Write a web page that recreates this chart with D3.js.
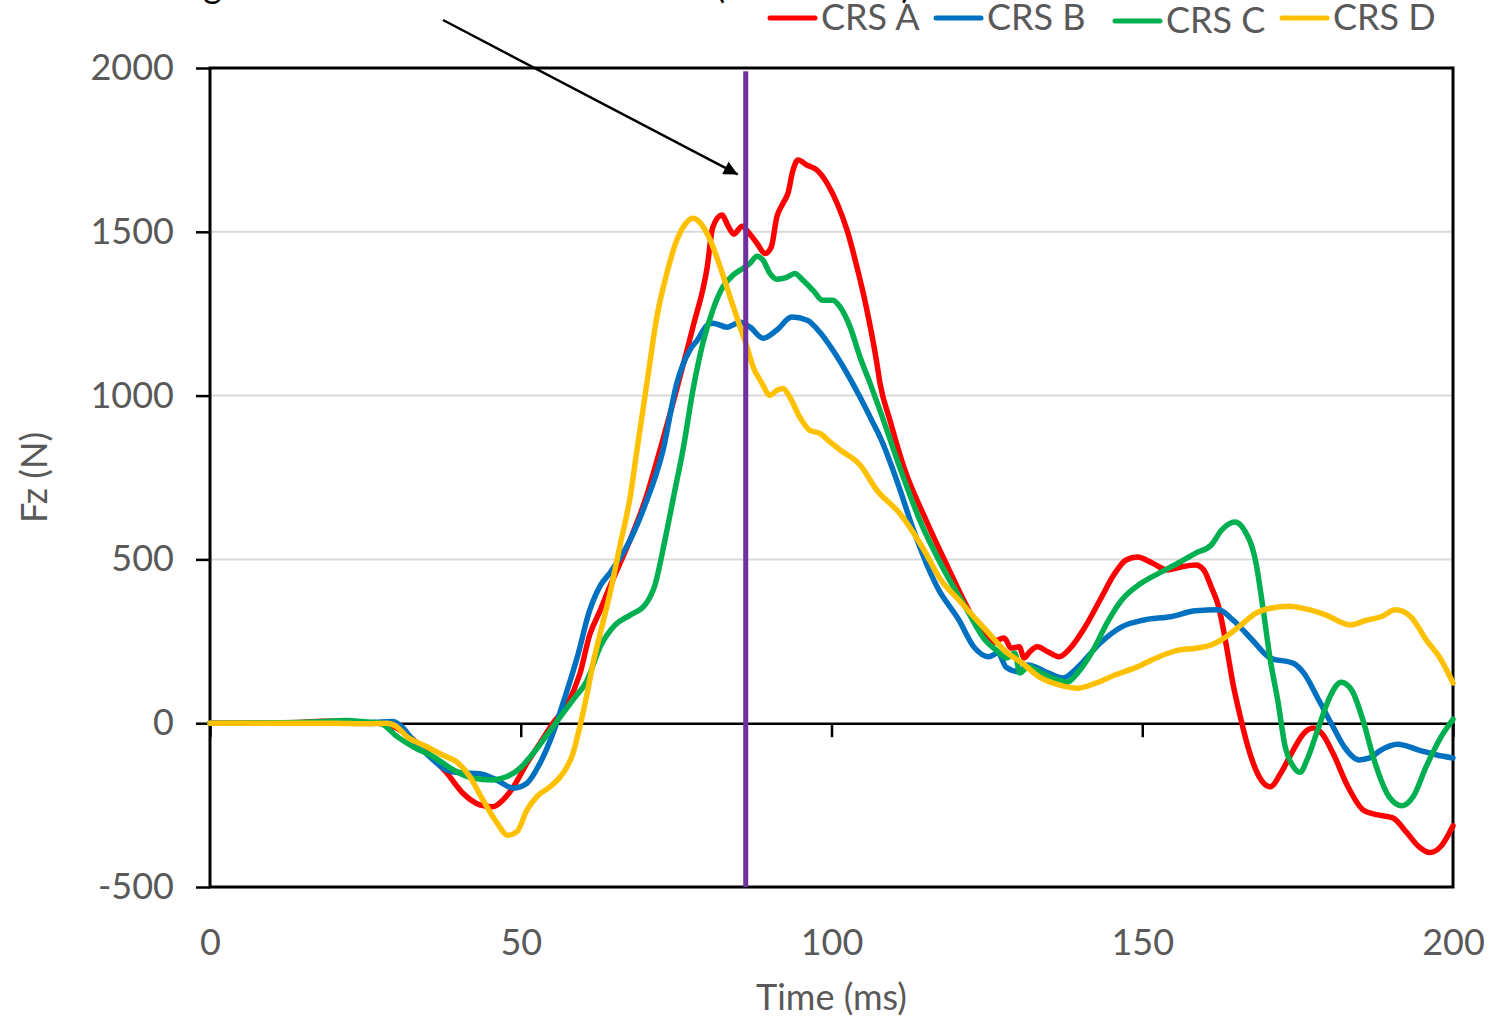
<!DOCTYPE html>
<html>
<head>
<meta charset="utf-8">
<script src="https://cdn.jsdelivr.net/npm/d3@7"></script>
<style>
  html, body { margin: 0; padding: 0; background: #fff; }
  svg { display: block; font-family: Lato, "Open Sans", sans-serif; }
</style>
</head>
<body>
<svg id="chart" width="1491" height="1017"></svg>
<script>
// Vertical ground reaction force (Fz) during the landing, four CRS conditions.
// Each series: [time (ms), Fz (N)]
const seriesNames = ["CRS A", "CRS B", "CRS C", "CRS D"];
const seriesColors = ["#FF0000", "#0070C0", "#00B050", "#FFC000"];

const crsA = [[0,0],[5,0],[10,1],[15,3],[18,6],[21,6],[24,3],[27,0],[30,-15],[32.7,-50],[35.9,-108],[38.1,-152],
  [40.7,-214],[43.4,-249],[45.5,-255],[47.1,-235],[48.8,-195],[51.0,-122],[53.1,-61],[55.2,0],[57.4,55],[59.5,150],
  [61.1,270],[62.8,345],[64.4,420],[67.6,560],[70.0,680],[72.4,834],[75.6,1056],[77.7,1209],[80.0,1392],[80.9,1514],
  [82.4,1551],[83.3,1520],[84.3,1493],[85.6,1517],[86.6,1499],[88.0,1465],[89.3,1434],[90.3,1453],[91.2,1545],
  [92.2,1587],[93.0,1618],[93.8,1688],[94.6,1719],[96.1,1703],[97.7,1688],[99.3,1648],[100.9,1587],[102.5,1505],
  [104.1,1392],[105.7,1261],[107.3,1099],[107.8,1038],[109.4,925],[111.8,773],[115.2,620],[118.7,477],[121.8,355],
  [123.9,285],[126.0,244],[126.8,254],[127.8,260],[128.9,229],[130.2,233],[131.0,199],[131.9,218],[133.1,233],
  [134.8,218],[136.6,203],[138.4,229],[140.8,294],[143.2,376],[145.6,458],[147.4,498],[149.2,507],[151.6,489],
  [154.0,468],[156.2,477],[158.6,483],[159.9,468],[161.1,416],[162.3,355],[163.5,240],[164.6,120],[165.9,10],
  [167.0,-72],[168.8,-163],[170.6,-194],[172.3,-152],[174.3,-82],[176.0,-31],[177.5,-15],[178.9,-31],[180.7,-92],
  [183.1,-194],[185.5,-264],[187.9,-280],[190.3,-289],[192.6,-335],[194.5,-377],[196.3,-395],[198.1,-375],[200,-313]];

const crsB = [[0,0],[5,0],[10,0],[15,1],[20,2],[25.3,1],[27.5,4],[29.4,5],[30.5,-5],[32.7,-52],[35.9,-112],
  [38.1,-143],[40.7,-152],[43.4,-154],[46.1,-173],[48.8,-198],[51.0,-183],[53.1,-122],[55.2,-30],[56.8,61],
  [59.1,202],[61.1,345],[62.8,420],[64.4,460],[67.6,559],[70.0,666],[72.9,834],[75.1,1037],[77.2,1139],[78.4,1169],
  [80.0,1215],[80.9,1221],[83.2,1209],[85.3,1224],[86.9,1209],[89.0,1175],[91.2,1200],[93.6,1240],[96.1,1230],
  [98.1,1194],[100.2,1139],[102.5,1068],[104.6,995],[106.7,916],[107.8,874],[111.0,714],[113.0,600],[117.0,416],
  [120.5,315],[122.9,233],[125.3,203],[126.8,214],[128.1,171],[130.2,157],[131.6,178],[134.8,154],[137.2,138],
  [139.7,172],[143.2,244],[146.7,294],[150.3,315],[154.5,325],[158.6,343],[162.3,346],[164.6,315],[167.7,254],
  [170.6,199],[174.3,183],[176.0,153],[178.4,71],[180.7,-11],[182.5,-72],[184.9,-112],[186.6,-106],[188.4,-82],
  [191.1,-64],[194.5,-82],[197.4,-97],[200,-106]];

const crsC = [[0,0],[5,0],[10,1],[15,3],[19,6],[22,8],[24.5,5],[27.4,0],[30.1,-41],[32.7,-72],[35.9,-102],
  [39.1,-142],[42.3,-168],[45.5,-173],[47.8,-163],[49.9,-137],[52.0,-92],[54.2,-36],[56.3,18],[58.4,71],[60.7,132],
  [62.8,234],[65.2,300],[67.6,330],[70.0,361],[71.6,422],[73.2,559],[74.8,711],[76.1,834],[77.7,1016],[79.3,1160],
  [80.9,1261],[82.5,1331],[84.2,1368],[85.8,1389],[86.9,1404],[88.0,1425],[89.0,1413],[90.1,1373],[91.2,1355],
  [92.8,1361],[94.1,1373],[95.4,1352],[97.0,1322],[98.6,1291],[100.2,1291],[101.4,1270],[103.0,1209],[104.6,1117],
  [106.2,1038],[107.8,955],[111.0,780],[114.2,620],[118.1,468],[121.8,346],[124.7,254],[126.5,223],[128.2,199],
  [129.5,214],[130.3,153],[131.6,172],[133.7,154],[136.1,134],[137.9,125],[139.7,156],[142.1,223],[144.3,305],
  [146.7,376],[149.8,427],[152.7,458],[155.8,489],[158.6,519],[161.1,544],[162.8,590],[164.9,614],[166.4,590],
  [168.3,489],[169.4,355],[170.6,193],[171.8,70],[173.0,-72],[174.3,-132],[175.4,-150],[176.5,-112],[178.4,-11],
  [180.2,81],[182.0,125],[183.7,101],[185.5,10],[187.3,-112],[189.7,-224],[191.8,-252],[193.6,-224],[195.7,-132],
  [198.1,-41],[200,12]];

const crsD = [[0,0],[5,0],[10,0],[15,0],[20,0],[25,-2],[28.5,0],[30,-10],[31.7,-41],[34.9,-72],[37.5,-98],
  [39.7,-118],[41.8,-163],[43.9,-234],[46.2,-305],[47.9,-342],[49.4,-331],[51.0,-265],[52.6,-224],[54.7,-194],
  [56.8,-153],[58.4,-92],[59.5,-11],[60.7,92],[61.6,180],[62.8,275],[64.4,400],[66.0,545],[67.6,690],[68.7,834],
  [70.3,1038],[71.9,1240],[73.5,1373],[75.1,1474],[76.7,1529],[77.7,1541],[78.8,1529],[80.5,1474],[82.1,1392],
  [83.7,1300],[85.3,1209],[86.4,1148],[87.4,1087],[88.8,1038],[90.1,1001],[91.2,1016],[92.2,1022],[93.3,995],
  [94.9,934],[96.5,894],[98.1,885],[99.8,858],[101.4,834],[104.6,788],[107.3,711],[111.0,640],[114.6,538],
  [117.6,437],[120.5,376],[122.9,325],[125.3,275],[127.8,223],[130.7,183],[133.7,138],[136.6,117],[139.7,107],
  [142.6,123],[145.6,147],[149.2,172],[152.7,203],[155.8,223],[158.6,229],[161.1,239],[163.5,264],[165.9,300],
  [168.3,336],[170.6,351],[173.6,357],[176.5,348],[179.6,330],[183.4,300],[186.2,315],[188.4,325],[190.8,346],
  [193.2,325],[195.7,254],[198.1,193],[200,123]];

const seriesData = [crsA, crsB, crsC, crsD];

const xTicks = [0, 50, 100, 150, 200];
const yTicks = [-500, 0, 500, 1000, 1500, 2000];
const xTitle = "Time (ms)";
const yTitle = "Fz (N)";
const markerTime = 86.2;
const noteText = "Image at the maximum knee flexion (t = 86.2 ms)";

// ---- layout ----
const plot = { left: 210, right: 1453, top: 68, bottom: 887 };
const textGrey = "#595959";
const fontSize = 36;
const plainNumber = d => String(d);

const svg = d3.select("#chart");

const x = d3.scaleLinear().domain([0, 200]).range([plot.left, plot.right]);
const y = d3.scaleLinear().domain([-500, 2000]).range([plot.bottom, plot.top]);

// horizontal gridlines
svg.append("g")
  .selectAll("line")
  .data(yTicks.filter(v => v !== 0 && v !== -500 && v !== 2000))
  .join("line")
  .attr("x1", plot.left).attr("x2", plot.right)
  .attr("y1", d => y(d)).attr("y2", d => y(d))
  .attr("stroke", "#d9d9d9").attr("stroke-width", 2);

// y axis: outside ticks and labels
const yAxis = svg.append("g")
  .attr("transform", `translate(${plot.left},0)`)
  .call(d3.axisLeft(y).tickValues(yTicks).tickFormat(plainNumber)
    .tickSize(14).tickPadding(22).tickSizeOuter(0));
yAxis.select(".domain").remove();
yAxis.selectAll(".tick line").attr("stroke", "#000").attr("stroke-width", 2.5);
yAxis.selectAll(".tick text")
  .attr("fill", textGrey).attr("font-size", fontSize).attr("font-family", "Lato, sans-serif");

// x labels under the plot box
const xAxis = svg.append("g")
  .attr("transform", `translate(0,${plot.bottom})`)
  .call(d3.axisBottom(x).tickValues(xTicks).tickFormat(plainNumber)
    .tickSize(0).tickPadding(42).tickSizeOuter(0));
xAxis.select(".domain").remove();
xAxis.selectAll(".tick text")
  .attr("fill", textGrey).attr("font-size", fontSize).attr("font-family", "Lato, sans-serif");

// zero line with downward ticks
const zeroAxis = svg.append("g")
  .attr("transform", `translate(0,${y(0)})`)
  .call(d3.axisBottom(x).tickValues(xTicks).tickSize(14).tickFormat("").tickSizeOuter(0));
zeroAxis.select(".domain").attr("stroke", "#000").attr("stroke-width", 2.5);
zeroAxis.selectAll(".tick line").attr("stroke", "#000").attr("stroke-width", 2.5);

// plot frame
svg.append("rect")
  .attr("x", plot.left).attr("y", plot.top)
  .attr("width", plot.right - plot.left).attr("height", plot.bottom - plot.top)
  .attr("fill", "none").attr("stroke", "#000").attr("stroke-width", 3);

// series
const line = d3.line()
  .x(d => x(d[0]))
  .y(d => y(d[1]))
  .curve(d3.curveMonotoneX);

svg.append("g")
  .selectAll("path")
  .data(seriesData)
  .join("path")
  .attr("d", line)
  .attr("fill", "none")
  .attr("stroke", (d, i) => seriesColors[i])
  .attr("stroke-width", 5.5)
  .attr("stroke-linejoin", "round")
  .attr("stroke-linecap", "round");

// instant marker
svg.append("line")
  .attr("x1", x(markerTime)).attr("x2", x(markerTime))
  .attr("y1", y(1990)).attr("y2", y(-500))
  .attr("stroke", "#7030A0").attr("stroke-width", 5);

// annotation text (runs off the top edge) and arrow
svg.append("text")
  .attr("x", 146).attr("y", -2)
  .attr("font-size", fontSize).attr("font-family", "Lato, sans-serif")
  .attr("fill", "#000")
  .text(noteText);

svg.append("defs").append("marker")
  .attr("id", "arrowHead")
  .attr("viewBox", "0 0 10 10")
  .attr("refX", 10).attr("refY", 5)
  .attr("markerUnits", "userSpaceOnUse")
  .attr("markerWidth", 20).attr("markerHeight", 14)
  .attr("orient", "auto")
  .append("path").attr("d", "M0,0 L10,5 L0,10 Z").attr("fill", "#000");

svg.append("line")
  .attr("x1", 443).attr("y1", 20)
  .attr("x2", x(markerTime) - 8).attr("y2", y(1675))
  .attr("stroke", "#000").attr("stroke-width", 2.5)
  .attr("marker-end", "url(#arrowHead)");

// axis titles
svg.append("text")
  .attr("x", (plot.left + plot.right) / 2).attr("y", 1010)
  .attr("text-anchor", "middle")
  .attr("font-size", fontSize).attr("fill", textGrey)
  .text(xTitle);

svg.append("text")
  .attr("transform", `translate(47,${(plot.top + plot.bottom) / 2}) rotate(-90)`)
  .attr("text-anchor", "middle")
  .attr("font-size", fontSize).attr("fill", textGrey)
  .text(yTitle);

// legend
const legendX = [768, 934, 1113, 1280];
const legendY = [18, 18, 21, 18];
const legend = svg.append("g")
  .selectAll("g")
  .data(seriesNames)
  .join("g")
  .attr("transform", (d, i) => `translate(${legendX[i]},${legendY[i]})`);
legend.append("line")
  .attr("x1", 2).attr("x2", 47).attr("y1", 0).attr("y2", 0)
  .attr("stroke", (d, i) => seriesColors[i])
  .attr("stroke-width", 5).attr("stroke-linecap", "round");
legend.append("text")
  .attr("x", 53).attr("y", 12)
  .attr("font-size", fontSize).attr("fill", textGrey)
  .text(d => d);
</script>
</body>
</html>
